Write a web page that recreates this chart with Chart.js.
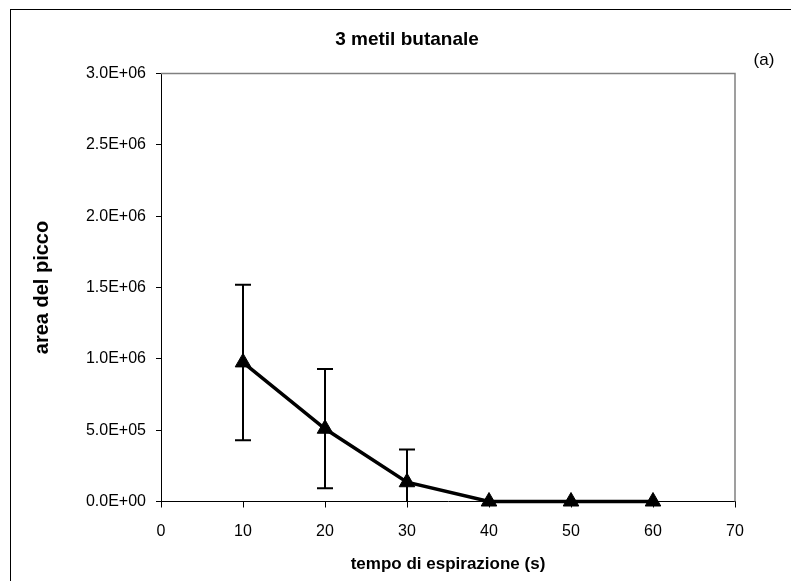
<!DOCTYPE html>
<html>
<head>
<meta charset="utf-8">
<script src="https://cdn.jsdelivr.net/npm/chart.js@4.4.1/dist/chart.umd.min.js"></script>
<style>
  html, body { margin: 0; padding: 0; background: #fff; }
  #wrap { width: 791px; height: 581px; }
</style>
</head>
<body>
<div id="wrap"><canvas id="chart" width="791" height="581"></canvas></div>
<script>
// tempo (s) e area del picco
const tempi = [10, 20, 30, 40, 50, 60];
const aree = [975000, 510000, 135000, 0, 0, 0];
const errori = [545000, 418000, 229000, 0, 0, 0];
const xTicks = [0, 10, 20, 30, 40, 50, 60, 70];
const yTicks = [0, 500000, 1000000, 1500000, 2000000, 2500000, 3000000];

const FONT = 'Liberation Sans, Arial, sans-serif';

// formato tipo Excel: 1.5E+06
function sci(v) {
  const parts = v.toExponential(1).toUpperCase().split('E');
  let exp = parts[1];
  const sign = exp[0];
  exp = exp.slice(1).padStart(2, '0');
  return parts[0] + 'E' + sign + exp;
}

// cornice, titolo, (a) e bordo grigio dell'area del grafico
const decor = {
  id: 'decor',
  beforeDraw(chart) {
    const ctx = chart.ctx;
    ctx.save();
    ctx.fillStyle = '#fff';
    ctx.fillRect(0, 0, chart.width, chart.height);
    ctx.strokeStyle = '#000';
    ctx.lineWidth = 1;
    ctx.strokeRect(10.5, 9.5, 900, 700);
    ctx.restore();
  },
  afterDraw(chart) {
    const ctx = chart.ctx;
    const a = chart.chartArea;
    ctx.save();
    ctx.strokeStyle = '#808080';
    ctx.lineWidth = 1.5;
    ctx.beginPath();
    ctx.moveTo(a.left, a.top);
    ctx.lineTo(a.right, a.top);
    ctx.lineTo(a.right, a.bottom);
    ctx.stroke();
    ctx.fillStyle = '#000';
    ctx.textAlign = 'center';
    ctx.textBaseline = 'middle';
    ctx.font = 'bold 19px ' + FONT;
    ctx.fillText('3 metil butanale', 407, 40);
    ctx.font = '17px ' + FONT;
    ctx.fillText('(a)', 764, 60);
    ctx.restore();
  }
};

// barre di errore
const errorBars = {
  id: 'errorBars',
  beforeDatasetsDraw(chart) {
    const ctx = chart.ctx;
    const xs = chart.scales.x;
    const ys = chart.scales.y;
    ctx.save();
    ctx.strokeStyle = '#000';
    ctx.lineWidth = 2;
    tempi.forEach((t, i) => {
      if (!errori[i]) return;
      const x = xs.getPixelForValue(t);
      const lo = Math.max(aree[i] - errori[i], ys.min);
      const hi = aree[i] + errori[i];
      const yLo = ys.getPixelForValue(lo);
      const yHi = ys.getPixelForValue(hi);
      ctx.beginPath();
      ctx.moveTo(x, yLo);
      ctx.lineTo(x, yHi);
      ctx.moveTo(x - 8, yHi);
      ctx.lineTo(x + 8, yHi);
      if (lo > ys.min) {
        ctx.moveTo(x - 8, yLo);
        ctx.lineTo(x + 8, yLo);
      }
      ctx.stroke();
    });
    ctx.restore();
  }
};

new Chart(document.getElementById('chart'), {
  type: 'line',
  data: {
    datasets: [{
      data: tempi.map((t, i) => ({ x: t, y: aree[i] })),
      borderColor: '#000',
      borderWidth: 3.5,
      backgroundColor: '#000',
      pointStyle: 'triangle',
      pointRadius: 9,
      pointBorderWidth: 1,
      pointBackgroundColor: '#000',
      pointBorderColor: '#000',
      tension: 0,
      clip: false
    }]
  },
  options: {
    responsive: false,
    animation: false,
    layout: { padding: { top: 73.5, right: 56, bottom: 0, left: 0 } },
    plugins: {
      legend: { display: false },
      tooltip: { enabled: false }
    },
    scales: {
      x: {
        type: 'linear',
        min: 0,
        max: 70,
        afterBuildTicks: s => { s.ticks = xTicks.map(v => ({ value: v })); },
        afterFit: s => { s.height = 79.5; },
        grid: { drawOnChartArea: false, color: '#000', tickLength: 6 },
        border: { color: '#000', width: 1 },
        ticks: { color: '#000', font: { family: FONT, size: 16 }, padding: 14, maxRotation: 0 },
        title: {
          display: true,
          text: 'tempo di espirazione (s)',
          color: '#000',
          font: { family: FONT, size: 17, weight: 'bold' },
          padding: { top: 0, bottom: 6 }
        }
      },
      y: {
        min: 0,
        max: 3000000,
        afterBuildTicks: s => { s.ticks = yTicks.map(v => ({ value: v })); },
        afterFit: s => { s.width = 161; },
        grid: { drawOnChartArea: false, color: '#000', tickLength: 5 },
        border: { color: '#000', width: 1 },
        ticks: { color: '#000', font: { family: FONT, size: 16 }, padding: 10, callback: v => sci(v) },
        title: {
          display: true,
          text: 'area del picco',
          color: '#000',
          font: { family: FONT, size: 20, weight: 'bold' },
          padding: { top: 30, bottom: 0 }
        }
      }
    }
  },
  plugins: [decor, errorBars]
});
</script>
</body>
</html>
